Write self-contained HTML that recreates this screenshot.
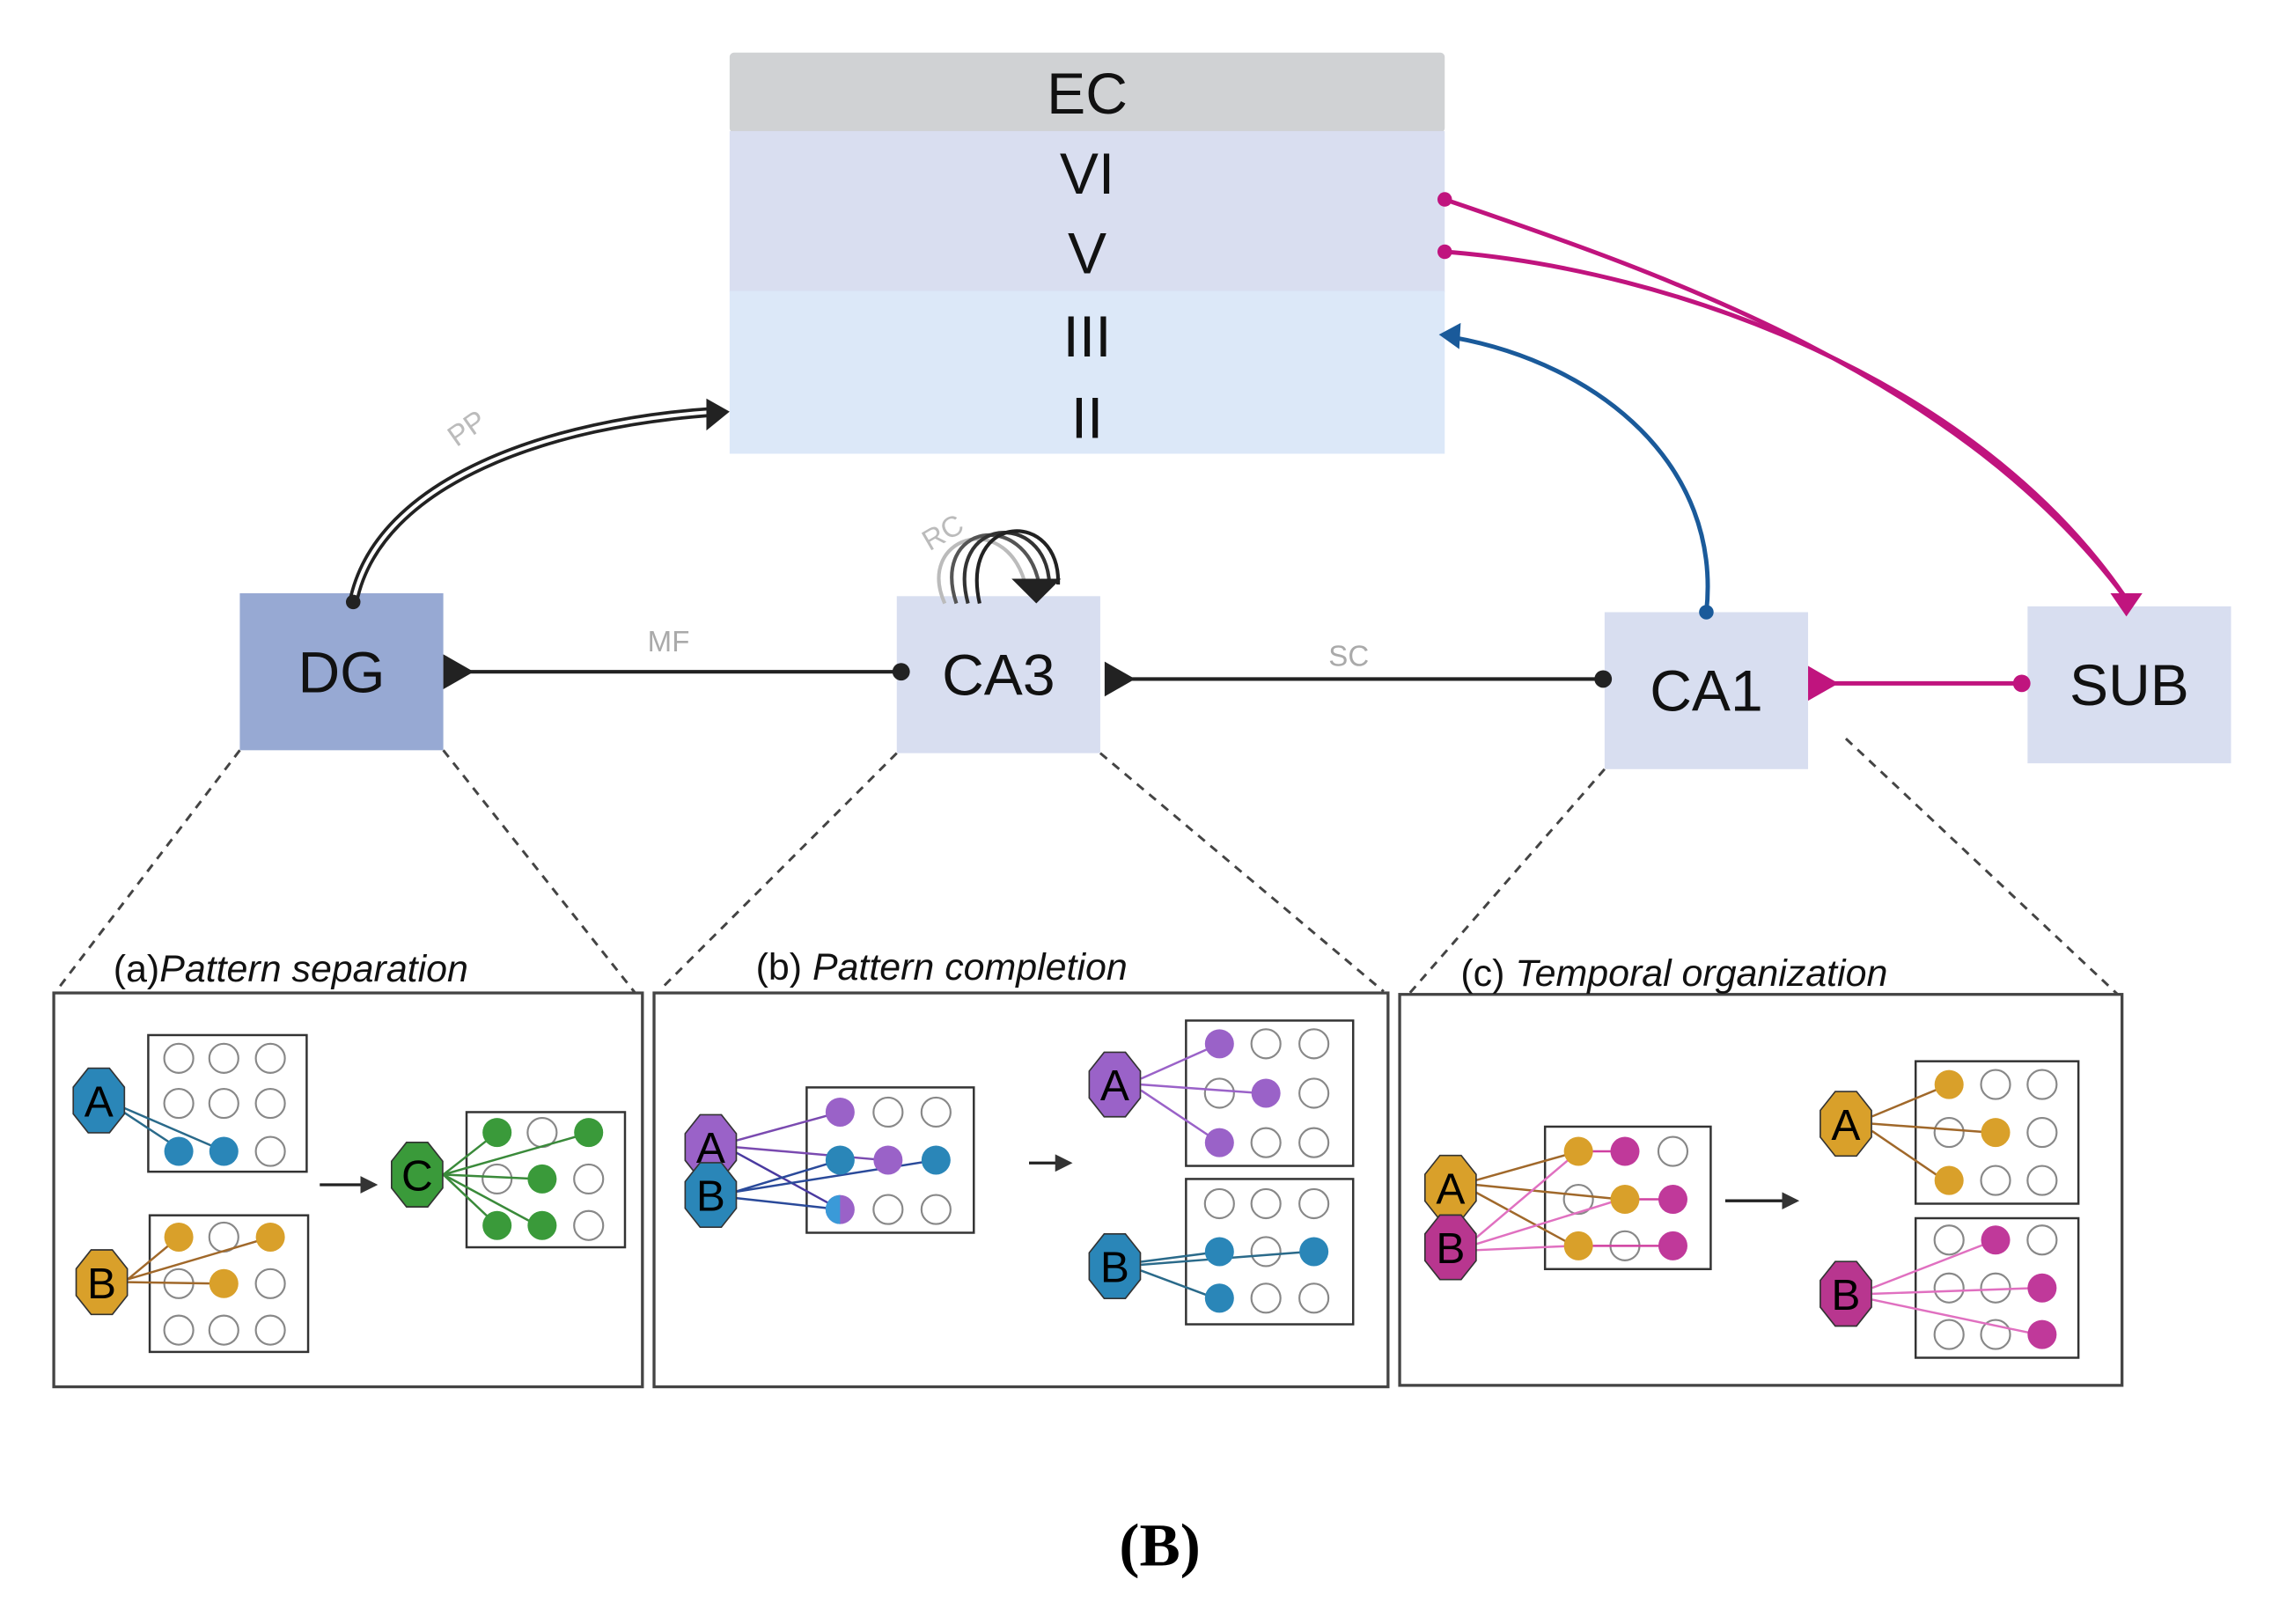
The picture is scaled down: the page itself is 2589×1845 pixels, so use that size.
<!DOCTYPE html>
<html><head><meta charset="utf-8"><style>html,body{margin:0;padding:0;background:#fff}svg{display:block}</style></head>
<body>
<svg width="2589" height="1845" viewBox="0 0 1568 1117" xmlns="http://www.w3.org/2000/svg" font-family="Liberation Sans, sans-serif">
<defs>
<polygon id="hx" points="7.3,-22.2 17.6,-9.2 17.6,9.2 7.3,22.2 -7.3,22.2 -17.6,9.2 -17.6,-9.2 -7.3,-22.2" stroke="#333" stroke-width="1"/>
<circle id="e" r="10" fill="#fff" stroke="#888" stroke-width="1.3"/>
<marker id="ah" markerWidth="6" markerHeight="6" refX="5" refY="3" orient="auto"><path d="M0,0L6,3L0,6z" fill="#333"/></marker>
</defs>
<!-- EC block -->
<rect x="502" y="36" width="492" height="55" fill="#d0d2d4" rx="3"/>
<rect x="502" y="90" width="492" height="111" fill="#d9def0"/>
<rect x="502" y="200" width="492" height="112" fill="#dce8f8"/>
<g font-size="40" text-anchor="middle" fill="#111">
<text x="748" y="78">EC</text><text x="748" y="133">VI</text><text x="748" y="188">V</text><text x="748" y="245">III</text><text x="748" y="301">II</text>
</g>
<!-- region boxes -->
<rect x="165" y="408" width="140" height="108" fill="#97a9d3"/>
<rect x="617" y="410" width="140" height="108" fill="#d8def0"/>
<rect x="1104" y="421" width="140" height="108" fill="#d8def0"/>
<rect x="1395" y="417" width="140" height="108" fill="#d8def0"/>
<g font-size="40" text-anchor="middle" fill="#111">
<text x="235" y="476">DG</text><text x="687" y="478">CA3</text><text x="1174" y="489">CA1</text><text x="1465" y="485">SUB</text>
</g>
<!-- MF -->
<line x1="310" y1="462" x2="620" y2="462" stroke="#222" stroke-width="2.5"/>
<path d="M305,450 L326,462 L305,474z" fill="#222"/><circle cx="620" cy="462" r="6" fill="#222"/>
<text x="460" y="448" font-size="20" fill="#aaa" text-anchor="middle">MF</text>
<!-- SC -->
<line x1="765" y1="467" x2="1103" y2="467" stroke="#222" stroke-width="2.5"/>
<path d="M760,455 L781,467 L760,479z" fill="#222"/><circle cx="1103" cy="467" r="6" fill="#222"/>
<text x="928" y="458" font-size="20" fill="#aaa" text-anchor="middle">SC</text>
<!-- CA1-SUB -->
<line x1="1250" y1="470" x2="1391" y2="470" stroke="#c0147e" stroke-width="3"/>
<path d="M1244,458 L1265,470 L1244,482z" fill="#c0147e"/><circle cx="1391" cy="470" r="6" fill="#c0147e"/>
<!-- PP double line -->
<path d="M243,414 C260,330 380,290 494,283" fill="none" stroke="#222" stroke-width="7"/>
<path d="M243,414 C260,330 380,290 494,283" fill="none" stroke="#fff" stroke-width="2.5"/>
<path d="M486,274 L502,283 L486,296z" fill="#222"/><circle cx="243" cy="414" r="5" fill="#222"/>
<text x="325" y="300" font-size="20" fill="#bbb" transform="rotate(-35 325 300)" text-anchor="middle">PP</text>
<!-- RC loops -->
<g fill="none" stroke-width="2.5">
<path d="M650,415 C630,370 690,350 705,400" stroke="#bbb"/>
<path d="M658,415 C640,360 705,350 715,402" stroke="#555"/>
<path d="M666,415 C650,355 720,350 722,402" stroke="#333"/>
<path d="M674,415 C660,352 730,350 728,402" stroke="#222"/>
</g>
<path d="M696,398 L730,398 L713,415z" fill="#222"/>
<text x="652" y="372" font-size="20" fill="#bbb" transform="rotate(-30 652 372)" text-anchor="middle">RC</text>
<!-- blue CA1->III -->
<path d="M1174,421 C1185,320 1100,250 1000,232" fill="none" stroke="#1a5a9a" stroke-width="3"/>
<path d="M990,230 L1005,222 L1004,240z" fill="#1a5a9a"/><circle cx="1174" cy="421" r="5" fill="#1a5a9a"/>
<!-- magenta V/VI -> SUB -->
<path d="M994,137 C1150,190 1350,260 1463,412" fill="none" stroke="#c0147e" stroke-width="3"/>
<path d="M994,173 C1150,185 1360,260 1463,412" fill="none" stroke="#c0147e" stroke-width="3"/>
<circle cx="994" cy="137" r="5" fill="#c0147e"/><circle cx="994" cy="173" r="5" fill="#c0147e"/>
<path d="M1452,408 L1474,408 L1463,424z" fill="#c0147e"/>
<!-- dashed -->
<g stroke="#444" stroke-width="1.8" stroke-dasharray="6,5">
<line x1="165" y1="516" x2="40" y2="680"/><line x1="305" y1="516" x2="437" y2="683"/>
<line x1="617" y1="518" x2="455" y2="680"/><line x1="757" y1="518" x2="952" y2="682"/>
<line x1="1104" y1="529" x2="970" y2="683"/><line x1="1270" y1="508" x2="1457" y2="684"/>
</g>
<!-- panels -->
<g fill="none" stroke="#444" stroke-width="2">
<rect x="37" y="683" width="405" height="271"/><rect x="450" y="683" width="505" height="271"/><rect x="963" y="684" width="497" height="269"/>
</g>
<g font-size="26" fill="#111">
<text x="78" y="675">(a)<tspan font-style="italic">Pattern separation</tspan></text>
<text x="520" y="674">(b) <tspan font-style="italic">Pattern completion</tspan></text>
<text x="1005" y="678">(c) <tspan font-style="italic">Temporal organization</tspan></text>
</g>
<text x="798" y="1077" font-family="Liberation Serif, serif" font-weight="bold" font-size="42" text-anchor="middle">(B)</text>

<!-- Panel a -->
<g fill="none" stroke="#333" stroke-width="1.5">
<rect x="102" y="712" width="109" height="94"/><rect x="103" y="836" width="109" height="94"/><rect x="321" y="765" width="109" height="93"/>
</g>
<use href="#e" x="123" y="728"/><use href="#e" x="154" y="728"/><use href="#e" x="186" y="728"/>
<use href="#e" x="123" y="759"/><use href="#e" x="154" y="759"/><use href="#e" x="186" y="759"/>
<use href="#e" x="186" y="792"/>
<g stroke="#2a6a8a" stroke-width="1.5"><line x1="85" y1="765" x2="123" y2="790"/><line x1="85" y1="762" x2="150" y2="790"/></g>
<circle cx="123" cy="792" r="10" fill="#2a86b8"/><circle cx="154" cy="792" r="10" fill="#2a86b8"/>
<use href="#hx" x="68" y="757" fill="#2a86b8"/><text x="68" y="768" font-size="30" text-anchor="middle">A</text>
<use href="#e" x="154" y="851"/><use href="#e" x="123" y="883"/><use href="#e" x="186" y="883"/>
<use href="#e" x="123" y="915"/><use href="#e" x="154" y="915"/><use href="#e" x="186" y="915"/>
<g stroke="#a0682a" stroke-width="1.5"><line x1="88" y1="880" x2="123" y2="851"/><line x1="88" y1="880" x2="183" y2="852"/><line x1="88" y1="882" x2="150" y2="883"/></g>
<circle cx="123" cy="851" r="10" fill="#d9a02a"/><circle cx="186" cy="851" r="10" fill="#d9a02a"/><circle cx="154" cy="883" r="10" fill="#d9a02a"/>
<use href="#hx" x="70" y="882" fill="#d9a02a"/><text x="70" y="893" font-size="30" text-anchor="middle">B</text>
<line x1="220" y1="815" x2="258" y2="815" stroke="#222" stroke-width="2" marker-end="url(#ah)"/>
<use href="#e" x="373" y="779"/><use href="#e" x="342" y="811"/><use href="#e" x="405" y="811"/><use href="#e" x="405" y="843"/>
<g stroke="#3a8a3a" stroke-width="1.5"><line x1="305" y1="808" x2="342" y2="779"/><line x1="305" y1="808" x2="403" y2="780"/><line x1="305" y1="808" x2="370" y2="811"/><line x1="305" y1="808" x2="342" y2="843"/><line x1="305" y1="808" x2="370" y2="843"/></g>
<circle cx="342" cy="779" r="10" fill="#3a9a3a"/><circle cx="405" cy="779" r="10" fill="#3a9a3a"/><circle cx="373" cy="811" r="10" fill="#3a9a3a"/><circle cx="342" cy="843" r="10" fill="#3a9a3a"/><circle cx="373" cy="843" r="10" fill="#3a9a3a"/>
<use href="#hx" x="287" y="808" fill="#3a9a3a"/><text x="287" y="819" font-size="30" text-anchor="middle">C</text>

<!-- Panel b -->
<g fill="none" stroke="#333" stroke-width="1.5">
<rect x="555" y="748" width="115" height="100"/><rect x="816" y="702" width="115" height="100"/><rect x="816" y="811" width="115" height="100"/>
</g>
<use href="#e" x="611" y="765"/><use href="#e" x="644" y="765"/><use href="#e" x="611" y="832"/><use href="#e" x="644" y="832"/>
<g stroke-width="1.5"><line x1="505" y1="785" x2="578" y2="765" stroke="#7a4ab0"/><line x1="505" y1="789" x2="608" y2="798" stroke="#7a4ab0"/><line x1="505" y1="792" x2="578" y2="832" stroke="#4a3aa0"/>
<line x1="505" y1="820" x2="578" y2="798" stroke="#2a4a9a"/><line x1="505" y1="820" x2="644" y2="798" stroke="#2a4a9a"/><line x1="505" y1="824" x2="578" y2="832" stroke="#2a4a9a"/></g>
<circle cx="578" cy="765" r="10" fill="#9a62c8"/><circle cx="611" cy="798" r="10" fill="#9a62c8"/>
<circle cx="578" cy="798" r="10" fill="#2a86b8"/><circle cx="644" cy="798" r="10" fill="#2a86b8"/>
<circle cx="578" cy="832" r="10" fill="#9a62c8"/><path d="M578,822 A10,10 0 0 0 578,842z" fill="#3a9ad8"/>
<use href="#hx" x="489" y="789" fill="#9a62c8"/><text x="489" y="800" font-size="30" text-anchor="middle">A</text>
<use href="#hx" x="489" y="822" fill="#2a86b8"/><text x="489" y="833" font-size="30" text-anchor="middle">B</text>
<line x1="708" y1="800" x2="736" y2="800" stroke="#222" stroke-width="2" marker-end="url(#ah)"/>
<use href="#e" x="871" y="718"/><use href="#e" x="904" y="718"/><use href="#e" x="839" y="752"/><use href="#e" x="904" y="752"/><use href="#e" x="871" y="786"/><use href="#e" x="904" y="786"/>
<g stroke="#9a62c8" stroke-width="1.5"><line x1="785" y1="742" x2="839" y2="718"/><line x1="785" y1="746" x2="868" y2="752"/><line x1="785" y1="750" x2="839" y2="786"/></g>
<circle cx="839" cy="718" r="10" fill="#9a62c8"/><circle cx="871" cy="752" r="10" fill="#9a62c8"/><circle cx="839" cy="786" r="10" fill="#9a62c8"/>
<use href="#hx" x="767" y="746" fill="#9a62c8"/><text x="767" y="757" font-size="30" text-anchor="middle">A</text>
<use href="#e" x="839" y="828"/><use href="#e" x="871" y="828"/><use href="#e" x="904" y="828"/><use href="#e" x="871" y="861"/><use href="#e" x="871" y="893"/><use href="#e" x="904" y="893"/>
<g stroke="#2a6a8a" stroke-width="1.5"><line x1="785" y1="868" x2="839" y2="861"/><line x1="785" y1="870" x2="901" y2="861"/><line x1="785" y1="874" x2="836" y2="893"/></g>
<circle cx="839" cy="861" r="10" fill="#2a86b8"/><circle cx="904" cy="861" r="10" fill="#2a86b8"/><circle cx="839" cy="893" r="10" fill="#2a86b8"/>
<use href="#hx" x="767" y="871" fill="#2a86b8"/><text x="767" y="882" font-size="30" text-anchor="middle">B</text>

<!-- Panel c -->
<g fill="none" stroke="#333" stroke-width="1.5">
<rect x="1063" y="775" width="114" height="98"/><rect x="1318" y="730" width="112" height="98"/><rect x="1318" y="838" width="112" height="96"/>
</g>
<use href="#e" x="1151" y="792"/><use href="#e" x="1086" y="825"/><use href="#e" x="1118" y="857"/>
<g stroke-width="1.5"><line x1="1015" y1="812" x2="1086" y2="792" stroke="#a0682a"/><line x1="1015" y1="815" x2="1115" y2="825" stroke="#a0682a"/><line x1="1015" y1="820" x2="1083" y2="857" stroke="#a0682a"/>
<line x1="1015" y1="852" x2="1086" y2="792" stroke="#e070c0"/><line x1="1015" y1="856" x2="1115" y2="825" stroke="#e070c0"/><line x1="1015" y1="860" x2="1083" y2="857" stroke="#e070c0"/>
<line x1="1086" y1="792" x2="1118" y2="792" stroke="#d040a0"/><line x1="1118" y1="825" x2="1151" y2="825" stroke="#d040a0"/><line x1="1086" y1="857" x2="1151" y2="857" stroke="#d040a0"/></g>
<circle cx="1086" cy="792" r="10" fill="#d9a02a"/><circle cx="1118" cy="825" r="10" fill="#d9a02a"/><circle cx="1086" cy="857" r="10" fill="#d9a02a"/>
<circle cx="1118" cy="792" r="10" fill="#c0399a"/><circle cx="1151" cy="825" r="10" fill="#c0399a"/><circle cx="1151" cy="857" r="10" fill="#c0399a"/>
<use href="#hx" x="998" y="817" fill="#d9a02a"/><text x="998" y="828" font-size="30" text-anchor="middle">A</text>
<use href="#hx" x="998" y="858" fill="#b8368f"/><text x="998" y="869" font-size="30" text-anchor="middle">B</text>
<line x1="1187" y1="826" x2="1236" y2="826" stroke="#222" stroke-width="2" marker-end="url(#ah)"/>
<use href="#e" x="1373" y="746"/><use href="#e" x="1405" y="746"/><use href="#e" x="1341" y="779"/><use href="#e" x="1405" y="779"/><use href="#e" x="1373" y="812"/><use href="#e" x="1405" y="812"/>
<g stroke="#a0682a" stroke-width="1.5"><line x1="1288" y1="768" x2="1341" y2="746"/><line x1="1288" y1="773" x2="1370" y2="779"/><line x1="1288" y1="778" x2="1338" y2="812"/></g>
<circle cx="1341" cy="746" r="10" fill="#d9a02a"/><circle cx="1373" cy="779" r="10" fill="#d9a02a"/><circle cx="1341" cy="812" r="10" fill="#d9a02a"/>
<use href="#hx" x="1270" y="773" fill="#d9a02a"/><text x="1270" y="784" font-size="30" text-anchor="middle">A</text>
<use href="#e" x="1341" y="853"/><use href="#e" x="1405" y="853"/><use href="#e" x="1341" y="886"/><use href="#e" x="1373" y="886"/><use href="#e" x="1341" y="918"/><use href="#e" x="1373" y="918"/>
<g stroke="#e070c0" stroke-width="1.5"><line x1="1288" y1="886" x2="1373" y2="853"/><line x1="1288" y1="890" x2="1402" y2="886"/><line x1="1288" y1="894" x2="1402" y2="918"/></g>
<circle cx="1373" cy="853" r="10" fill="#c0399a"/><circle cx="1405" cy="886" r="10" fill="#c0399a"/><circle cx="1405" cy="918" r="10" fill="#c0399a"/>
<use href="#hx" x="1270" y="890" fill="#b8368f"/><text x="1270" y="901" font-size="30" text-anchor="middle">B</text>
</svg>
</body></html>
